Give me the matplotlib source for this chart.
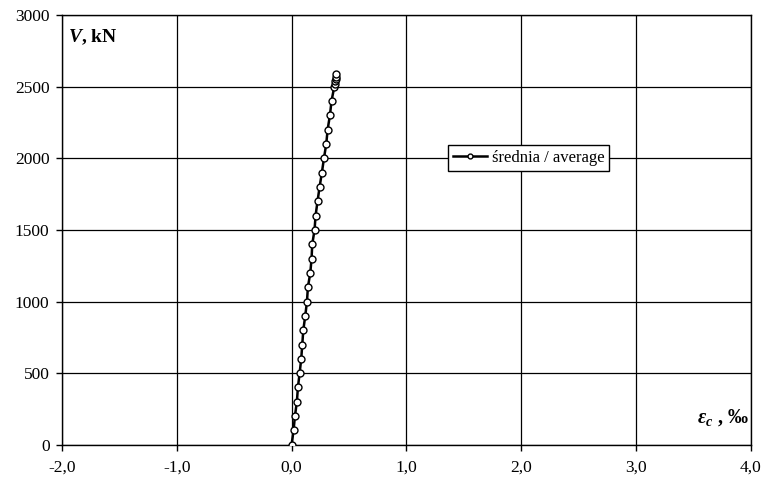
import matplotlib
matplotlib.use("Agg")
import matplotlib.pyplot as plt

plt.rcParams['font.family'] = ['Liberation Serif', 'DejaVu Serif']
plt.rcParams['mathtext.fontset'] = 'custom'
plt.rcParams['mathtext.it'] = 'Liberation Serif:italic:bold'
plt.rcParams['mathtext.rm'] = 'Liberation Serif:bold'

# average strain (permille) vs load V (kN)
strain = [0.0, 0.017, 0.029, 0.046, 0.055, 0.070, 0.084, 0.093, 0.102, 0.119,
          0.134, 0.142, 0.163, 0.174, 0.180, 0.200, 0.209, 0.226, 0.244, 0.264,
          0.282, 0.302, 0.314, 0.334, 0.348, 0.372, 0.378, 0.381, 0.384, 0.387, 0.389]
load = [0, 100, 200, 300, 400, 500, 600, 700, 800, 900,
        1000, 1100, 1200, 1300, 1400, 1500, 1600, 1700, 1800, 1900,
        2000, 2100, 2200, 2300, 2400, 2500, 2520, 2540, 2555, 2570, 2585]

xticks = [-2, -1, 0, 1, 2, 3, 4]
xlabels = ['-2,0', '-1,0', '0,0', '1,0', '2,0', '3,0', '4,0']
yticks = [0, 500, 1000, 1500, 2000, 2500, 3000]

fig = plt.figure(figsize=(7.66, 4.84), dpi=100)
ax = fig.add_axes([0.081, 0.081, 0.899, 0.888])

ax.plot(strain, load, color='black', lw=1.8, marker='o', markersize=5,
        markerfacecolor='white', markeredgecolor='black', markeredgewidth=1,
        label='średnia / average', zorder=3)

ax.set_xlim(-2, 4)
ax.set_ylim(0, 3000)
ax.set_xticks(xticks)
ax.set_xticklabels(xlabels)
ax.set_yticks(yticks)
ax.tick_params(labelsize=12.5, direction='out', length=4, width=1, colors='black')
ax.tick_params(axis='x', pad=7)
ax.tick_params(axis='y', pad=5)
ax.grid(True, color='black', lw=0.9)
for s in ax.spines.values():
    s.set_linewidth(1)

ax.text(0.009, 0.972, r'$V$, kN', transform=ax.transAxes, ha='left', va='top',
        fontsize=14, fontweight='bold')
ax.text(0.997, 0.04, r'$\varepsilon_c$ , ‰', transform=ax.transAxes, ha='right',
        va='bottom', fontsize=14.5, fontweight='bold')

leg = ax.legend(loc='center', bbox_to_anchor=(0.678, 0.667), fontsize=12,
                frameon=True, fancybox=False, handlelength=2.0,
                borderpad=0.3, handletextpad=0.3, markerscale=0.7)
leg.get_frame().set_edgecolor('black')
leg.get_frame().set_linewidth(1)
leg.get_frame().set_alpha(1)

fig.savefig('out.png', dpi=100)
